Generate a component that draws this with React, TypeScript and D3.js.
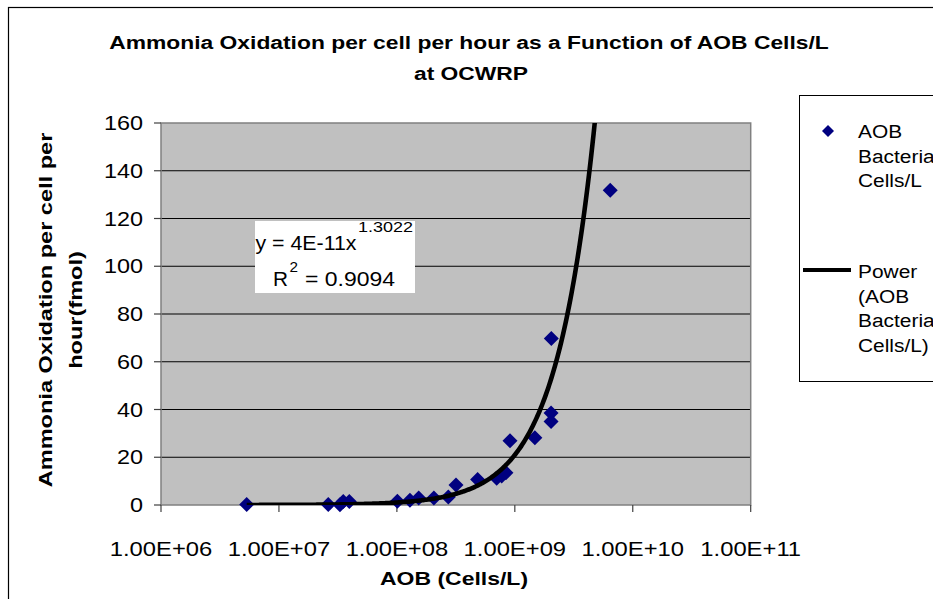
import React from "react";
import * as d3 from "d3";

// ---- data ----
const aobCells = [
  5.33e6, 2.62e7, 3.29e7, 3.51e7, 3.95e7, 1.01e8, 1.29e8, 1.53e8, 2.06e8, 2.73e8,
  3.17e8, 4.84e8, 7.02e8, 7.74e8, 8.41e8, 9.1e8, 1.48e9, 2.03e9, 2.03e9, 2.04e9, 6.44e9,
];
const oxidation = [
  0.2, 0.2, 0.1, 1.5, 1.5, 1.6, 2.0, 2.9, 2.9, 3.3,
  8.4, 10.7, 11.2, 12.1, 13.5, 26.9, 28.2, 35.0, 38.5, 69.7, 131.8,
];
const xTicks = [1e6, 1e7, 1e8, 1e9, 1e10, 1e11];
const xTickLabels = ["1.00E+06", "1.00E+07", "1.00E+08", "1.00E+09", "1.00E+10", "1.00E+11"];
const yTicks = [0, 20, 40, 60, 80, 100, 120, 140, 160];
const titleLines = ["Ammonia Oxidation per cell per hour as a Function of AOB Cells/L", "at OCWRP"];
const yTitleLines = ["Ammonia Oxidation per cell per", "hour(fmol)"];
const xTitle = "AOB (Cells/L)";
const legendSeries = ["AOB", "Bacteria", "Cells/L"];
const legendTrend = ["Power", "(AOB", "Bacteria", "Cells/L)"];
const fitA = 4e-11;
const fitB = 1.3022;
const fitR2 = "0.9094";

const FONT = "'Liberation Sans', Arial, sans-serif";

type TProps = {
  x: number; y: number; size: number; bold?: boolean; anchor?: string; rot?: number; sx?: number;
  children: React.ReactNode;
};
const T = ({ x, y, size, bold, anchor = "start", rot = 0, sx = 1.2, children }: TProps) => (
  <text
    transform={`translate(${x},${y}) rotate(${rot}) scale(${sx},1)`}
    fontFamily={FONT}
    fontSize={size}
    fontWeight={bold ? "bold" : "normal"}
    textAnchor={anchor}
    fill="#000"
  >
    {children}
  </text>
);

type FProps = { x: number; y: number; size: number; len: number; children: React.ReactNode };
const F = ({ x, y, size, len, children }: FProps) => (
  <text x={x} y={y} fontFamily={FONT} fontSize={size} textLength={len} lengthAdjust="spacingAndGlyphs" fill="#000">
    {children}
  </text>
);

export default function App() {
  const W = 933, H = 599;
  const L = 161, R = 750.7, TOP = 123, B = 505;
  const x = d3.scaleLog().domain([1e6, 1e11]).range([L, R]);
  const y = d3.scaleLinear().domain([0, 160]).range([B, TOP]);

  const xs0 = d3.min(aobCells) as number;
  const xsEnd = Math.pow(170 / fitA, 1 / fitB);
  const n = 300;
  const curvePts: [number, number][] = d3.range(n + 1).map((i) => {
    const lx = Math.log10(xs0) + (Math.log10(xsEnd) - Math.log10(xs0)) * (i / n);
    const xv = Math.pow(10, lx);
    return [xv, fitA * Math.pow(xv, fitB)];
  });
  const line = d3.line<[number, number]>().x((d) => x(d[0])).y((d) => y(d[1]));

  const diamond = (cx: number, cy: number, r: number) =>
    `M${cx},${cy - r}L${cx + r},${cy}L${cx},${cy + r}L${cx - r},${cy}Z`;

  return (
    <svg width={W} height={H} style={{ position: "absolute", left: 0, top: 0 }}>
      <rect x={0} y={0} width={W} height={H} fill="#fff" />
      <rect x={8.5} y={7.5} width={W + 20} height={H + 20} fill="#fff" stroke="#000" strokeWidth={1.2} />
      <defs>
        <clipPath id="plotClip">
          <rect x={L} y={TOP} width={R - L} height={B - TOP} />
        </clipPath>
      </defs>

      {/* title */}
      <T x={469} y={48.5} size={18.5} bold anchor="middle" sx={1.235}>{titleLines[0]}</T>
      <T x={471} y={79.5} size={18.5} bold anchor="middle" sx={1.235}>{titleLines[1]}</T>

      {/* plot area */}
      <rect x={L} y={TOP} width={R - L} height={B - TOP} fill="#c0c0c0" />
      {yTicks.filter((t) => t > 0 && t < 160).map((t) => (
        <line key={t} x1={L} x2={R} y1={y(t)} y2={y(t)} stroke="#000" strokeWidth={1} />
      ))}
      <rect x={L} y={TOP} width={R - L} height={B - TOP} fill="none" stroke="#808080" strokeWidth={1.5} />

      {/* y axis ticks */}
      {yTicks.map((t) => (
        <g key={t}>
          <line x1={L - 7} x2={L} y1={y(t)} y2={y(t)} stroke="#404040" strokeWidth={1.2} />
          <T x={143} y={y(t) + 7} size={19.5} anchor="end">{t}</T>
        </g>
      ))}
      {/* x axis ticks */}
      {xTicks.map((t, i) => (
        <g key={t}>
          <line x1={x(t)} x2={x(t)} y1={B} y2={B + 7} stroke="#404040" strokeWidth={1.2} />
          <T x={x(t)} y={556} size={19.5} anchor="middle" sx={1.22}>{xTickLabels[i]}</T>
        </g>
      ))}

      {/* axis titles */}
      <T x={454} y={585} size={19} bold anchor="middle" sx={1.21}>{xTitle}</T>
      <T x={52} y={310} size={19} bold anchor="middle" rot={-90} sx={1.24}>{yTitleLines[0]}</T>
      <T x={82} y={310} size={19} bold anchor="middle" rot={-90} sx={1.24}>{yTitleLines[1]}</T>

      {/* data */}
      {aobCells.map((c, i) => (
        <path key={i} d={diamond(x(c), y(oxidation[i]), 7.5)} fill="#000080" />
      ))}

      {/* trendline */}
      <path d={line(curvePts) || ""} fill="none" stroke="#000" strokeWidth={4.6} clipPath="url(#plotClip)" />

      {/* equation box */}
      <rect x={255} y={221} width={160} height={72} fill="#fff" />
      <F x={255.5} y={249.5} size={21} len={101}>{"y = 4E-11x"}</F>
      <F x={358} y={232} size={15} len={55}>{String(fitB)}</F>
      <F x={273} y={286} size={21} len={15}>R</F>
      <F x={289.5} y={272} size={15} len={8.5}>2</F>
      <F x={305} y={286} size={21} len={90}>{"= " + fitR2}</F>

      {/* legend */}
      <rect x={799.5} y={95.5} width={200} height={286} fill="#fff" stroke="#000" strokeWidth={1} />
      <path d={diamond(828, 131, 6)} fill="#000080" />
      {legendSeries.map((s, i) => (
        <T key={s} x={858} y={138 + i * 24.5} size={19} sx={1.1}>{s}</T>
      ))}
      <line x1={803} x2={851} y1={270} y2={270} stroke="#000" strokeWidth={4} />
      {legendTrend.map((s, i) => (
        <T key={s + i} x={858} y={278 + i * 24.5} size={19} sx={1.1}>{s}</T>
      ))}
    </svg>
  );
}
